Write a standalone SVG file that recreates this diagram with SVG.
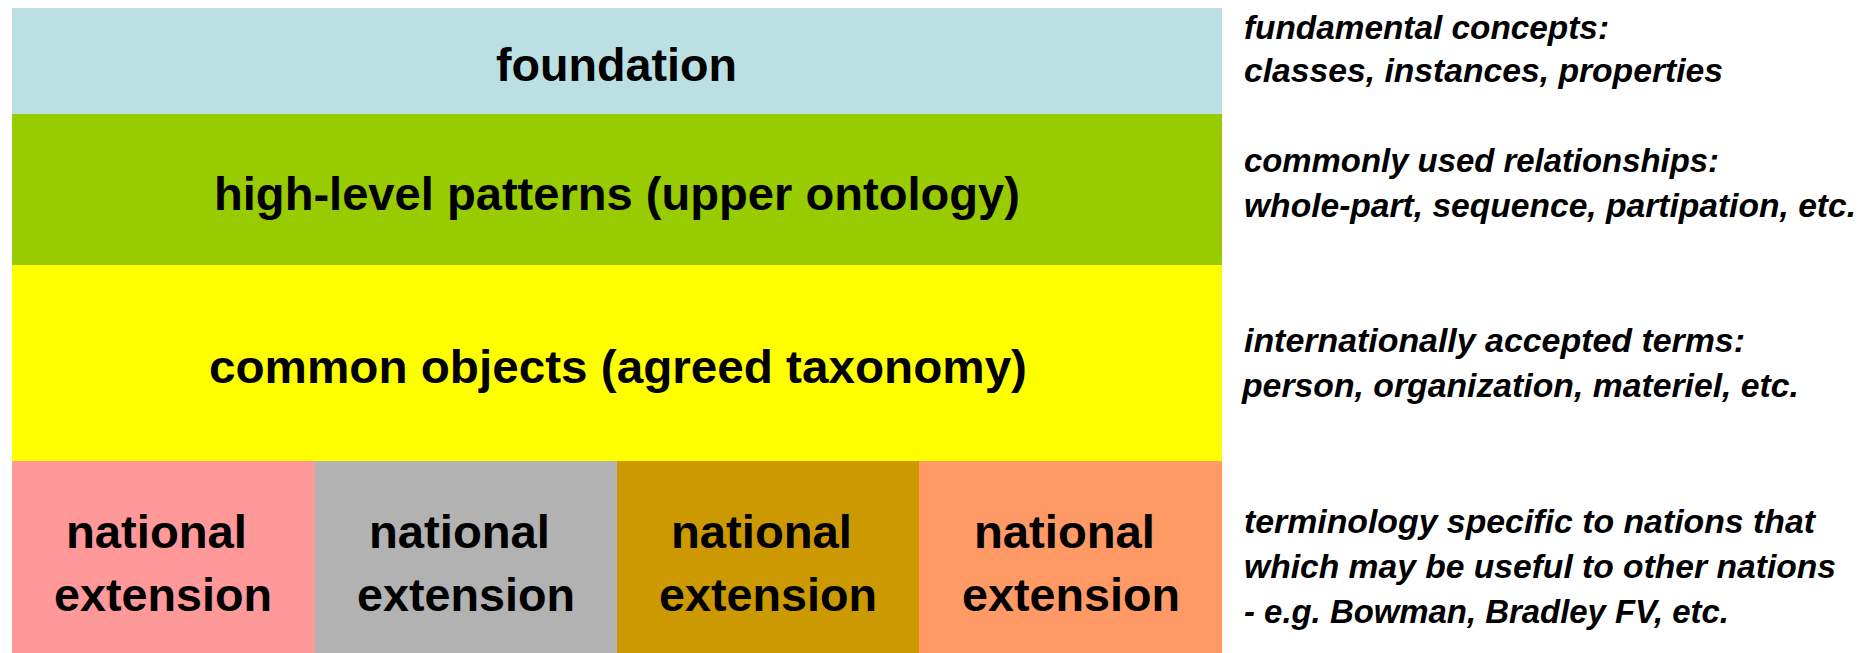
<svg xmlns="http://www.w3.org/2000/svg" width="1875" height="653" viewBox="0 0 1875 653">
  <style>
    .lbl { font-family: "Liberation Sans", Arial, sans-serif; font-weight: bold; font-size: 47px; fill: #000; }
    .note { font-family: "Liberation Sans", Arial, sans-serif; font-weight: bold; font-style: italic; font-size: 33px; fill: #000; }
  </style>
  <rect x="0" y="0" width="1875" height="653" fill="#ffffff"/>
  <g id="foundation">
    <rect x="12" y="8" width="1210" height="106" fill="#BBE0E3"/>
    <text class="lbl" x="496" y="81" textLength="241" lengthAdjust="spacingAndGlyphs">foundation</text>
  </g>
  <g id="high-level">
    <rect x="12" y="114" width="1210" height="151" fill="#99CC00"/>
    <text class="lbl" x="214" y="210" textLength="806" lengthAdjust="spacingAndGlyphs">high-level patterns (upper ontology)</text>
  </g>
  <g id="common-objects">
    <rect x="12" y="265" width="1210" height="196" fill="#FFFF00"/>
    <text class="lbl" x="209" y="383" textLength="818" lengthAdjust="spacingAndGlyphs">common objects (agreed taxonomy)</text>
  </g>
  <g id="national-1">
    <rect x="12" y="461" width="303" height="192" fill="#FF9999"/>
    <text class="lbl" x="66" y="548" textLength="181" lengthAdjust="spacingAndGlyphs">national</text>
    <text class="lbl" x="54" y="611" textLength="218" lengthAdjust="spacingAndGlyphs">extension</text>
  </g>
  <g id="national-2">
    <rect x="315" y="461" width="302" height="192" fill="#B2B2B2"/>
    <text class="lbl" x="369" y="548" textLength="181" lengthAdjust="spacingAndGlyphs">national</text>
    <text class="lbl" x="357" y="611" textLength="218" lengthAdjust="spacingAndGlyphs">extension</text>
  </g>
  <g id="national-3">
    <rect x="617" y="461" width="302" height="192" fill="#CC9900"/>
    <text class="lbl" x="671" y="548" textLength="181" lengthAdjust="spacingAndGlyphs">national</text>
    <text class="lbl" x="659" y="611" textLength="218" lengthAdjust="spacingAndGlyphs">extension</text>
  </g>
  <g id="national-4">
    <rect x="919" y="461" width="303" height="192" fill="#FF9966"/>
    <text class="lbl" x="974" y="548" textLength="181" lengthAdjust="spacingAndGlyphs">national</text>
    <text class="lbl" x="962" y="611" textLength="218" lengthAdjust="spacingAndGlyphs">extension</text>
  </g>
  <g id="notes">
    <text class="note" x="1244" y="39" textLength="365" lengthAdjust="spacingAndGlyphs">fundamental concepts:</text>
    <text class="note" x="1244" y="82" textLength="479" lengthAdjust="spacingAndGlyphs">classes, instances, properties</text>
    <text class="note" x="1244" y="172" textLength="475" lengthAdjust="spacingAndGlyphs">commonly used relationships:</text>
    <text class="note" x="1244" y="217" textLength="612" lengthAdjust="spacingAndGlyphs">whole-part, sequence, partipation, etc.</text>
    <text class="note" x="1244" y="352" textLength="501" lengthAdjust="spacingAndGlyphs">internationally accepted terms:</text>
    <text class="note" x="1242" y="397" textLength="557" lengthAdjust="spacingAndGlyphs">person, organization, materiel, etc.</text>
    <text class="note" x="1244" y="533" textLength="571" lengthAdjust="spacingAndGlyphs">terminology specific to nations that</text>
    <text class="note" x="1244" y="578" textLength="592" lengthAdjust="spacingAndGlyphs">which may be useful to other nations</text>
    <text class="note" x="1244" y="623" textLength="485" lengthAdjust="spacingAndGlyphs">- e.g. Bowman, Bradley FV, etc.</text>
  </g>
  <g id="connectors"/>
</svg>
